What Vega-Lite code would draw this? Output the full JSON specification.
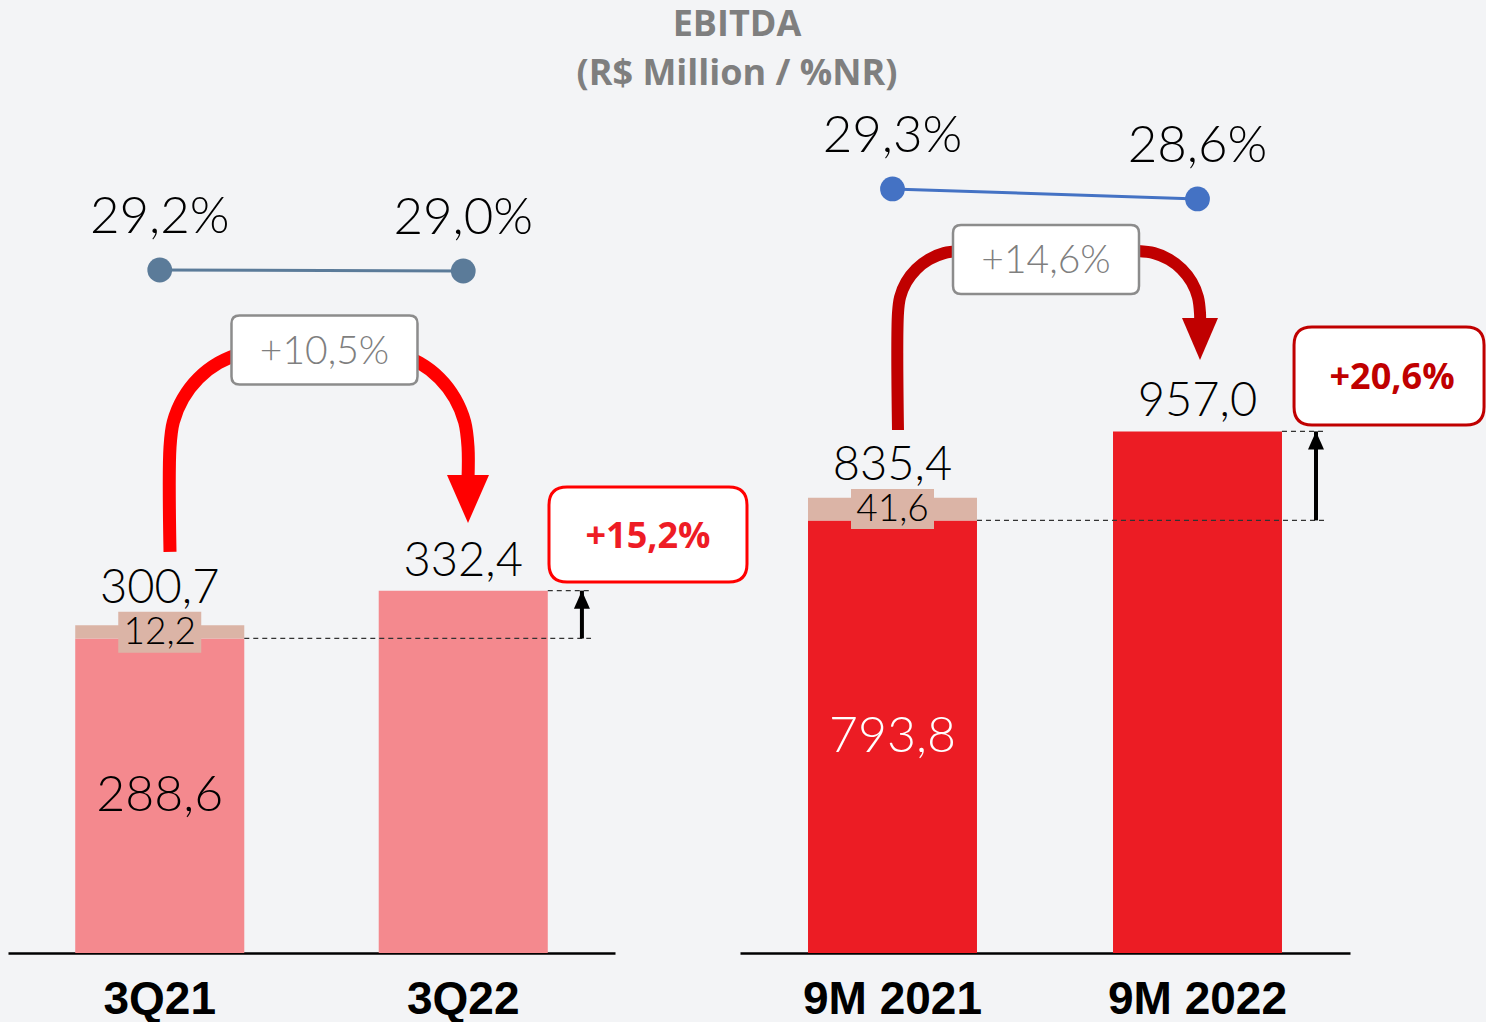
{
  "$schema": "https://vega.github.io/schema/vega-lite/v6.json",
  "background": "#f3f4f6",
  "padding": {"left": 8, "top": 7, "right": 0, "bottom": 0},
  "bounds": "flush",
  "title": {
    "text": ["EBITDA", "(R$ Million / %NR)"],
    "font": "Open Sans", "fontWeight": "bold", "fontSize": 36, "lineHeight": 49,
    "color": "#7f7f7f", "anchor": "start", "align": "center", "frame": "group", "dx": 729, "offset": -12
  },
  "config": {
    "view": {"stroke": null},
    "locale": {"number": {"decimal": ",", "thousands": ".", "grouping": [3], "currency": ["R$", ""]}}
  },
  "datasets": {
    "p1": [
      {"period": "3Q21", "segment": "base1", "value": 288.6},
      {"period": "3Q21", "segment": "extra", "value": 12.2},
      {"period": "3Q22", "segment": "base1", "value": 332.4}
    ],
    "p1sum": [
      {"period": "3Q21", "pos": 0.5, "base": 288.6, "extra": 12.2, "total": 300.7, "margin": 0.292},
      {"period": "3Q22", "pos": 1.5, "base": 332.4, "extra": 0, "total": 332.4, "margin": 0.290}
    ],
    "p1arc": [
      {"seg": "L", "ord": 0, "pos": 0.5338, "v": 367.9},
      {"seg": "L", "ord": 1, "pos": 0.5338, "v": 464.2},
      {"seg": "L", "ord": 2, "pos": 0.5446, "v": 487.2},
      {"seg": "L", "ord": 3, "pos": 0.5766, "v": 508.7},
      {"seg": "L", "ord": 4, "pos": 0.6273, "v": 527.2},
      {"seg": "L", "ord": 5, "pos": 0.6936, "v": 541.3},
      {"seg": "L", "ord": 6, "pos": 0.7707, "v": 550.2},
      {"seg": "L", "ord": 7, "pos": 0.8534, "v": 553.2},
      {"seg": "R", "ord": 0, "pos": 1.1960, "v": 553.2},
      {"seg": "R", "ord": 1, "pos": 1.2788, "v": 550.2},
      {"seg": "R", "ord": 2, "pos": 1.3558, "v": 541.3},
      {"seg": "R", "ord": 3, "pos": 1.4221, "v": 527.2},
      {"seg": "R", "ord": 4, "pos": 1.4728, "v": 508.7},
      {"seg": "R", "ord": 5, "pos": 1.5048, "v": 487.2},
      {"seg": "R", "ord": 6, "pos": 1.5157, "v": 464.2},
      {"seg": "R", "ord": 7, "pos": 1.5157, "v": 433.9}
    ],
    "p1head": [{"pos": 1.5157, "v": 394.5}],
    "p1growth": [{"pos": 1.0428, "v": 553.2, "growth": 0.105}],
    "p1yoy": [{"pos": 2.1087, "v": 383.9, "change": 0.152}],
    "p1dash": [
      {"x1": 0.7785, "x2": 1.921, "v": 288.6},
      {"x1": 1.7785, "x2": 1.921, "v": 332.4}
    ],
    "p1vert": [{"pos": 1.891, "from": 288.6, "to": 332.4}],
    "p2": [
      {"period": "9M 2021", "segment": "base2", "value": 793.8},
      {"period": "9M 2021", "segment": "extra", "value": 41.6},
      {"period": "9M 2022", "segment": "base2", "value": 957.0}
    ],
    "p2sum": [
      {"period": "9M 2021", "pos": 0.5, "base": 793.8, "extra": 41.6, "total": 835.4, "margin": 0.293},
      {"period": "9M 2022", "pos": 1.5, "base": 957.0, "extra": 0, "total": 957.0, "margin": 0.286}
    ],
    "p2arc": [
      {"seg": "L", "ord": 0, "pos": 0.5180, "v": 959.6},
      {"seg": "L", "ord": 1, "pos": 0.5180, "v": 1174.3},
      {"seg": "L", "ord": 2, "pos": 0.5250, "v": 1203.7},
      {"seg": "L", "ord": 3, "pos": 0.5452, "v": 1231.2},
      {"seg": "L", "ord": 4, "pos": 0.5777, "v": 1254.7},
      {"seg": "L", "ord": 5, "pos": 0.6197, "v": 1272.8},
      {"seg": "L", "ord": 6, "pos": 0.6689, "v": 1284.2},
      {"seg": "L", "ord": 7, "pos": 0.7213, "v": 1288.1},
      {"seg": "R", "ord": 0, "pos": 1.3049, "v": 1288.1},
      {"seg": "R", "ord": 1, "pos": 1.3574, "v": 1284.2},
      {"seg": "R", "ord": 2, "pos": 1.4066, "v": 1272.8},
      {"seg": "R", "ord": 3, "pos": 1.4485, "v": 1254.7},
      {"seg": "R", "ord": 4, "pos": 1.4810, "v": 1231.2},
      {"seg": "R", "ord": 5, "pos": 1.5013, "v": 1203.7},
      {"seg": "R", "ord": 6, "pos": 1.5082, "v": 1174.3},
      {"seg": "R", "ord": 7, "pos": 1.5082, "v": 1152.3}
    ],
    "p2head": [{"pos": 1.5082, "v": 1088.1}],
    "p2growth": [{"pos": 1.0033, "v": 1272.5, "growth": 0.146}],
    "p2yoy": [{"pos": 2.128, "v": 1058.7, "change": 0.206}],
    "p2dash": [
      {"x1": 0.777, "x2": 1.918, "v": 793.8},
      {"x1": 1.777, "x2": 1.918, "v": 957.0}
    ],
    "p2vert": [{"pos": 1.8885, "from": 793.8, "to": 957.0}]
  },
  "spacing": 125,
  "hconcat": [
    {
      "width": 607, "height": 872,
      "resolve": {"scale": {"x": "independent", "y": "independent"}},
      "layer": [
        {
          "data": {"name": "p1"},
          "mark": {"type": "bar", "width": {"band": 0.557}},
          "encoding": {
            "x": {"field": "period", "type": "nominal", "sort": null,
                  "scale": {"paddingInner": 0, "paddingOuter": 0},
                  "axis": {"title": null, "labelAngle": 0, "labelFont": "Liberation Sans", "labelFontWeight": "bold",
                           "labelFontSize": 46, "labelLimit": 0, "labelColor": "#000000", "domainColor": "#000000", "domainWidth": 2.5,
                           "ticks": false, "tickSize": 0, "labelPadding": 24, "grid": false}},
            "y": {"field": "value", "type": "quantitative", "stack": "zero", "scale": {"domain": [0, 800], "nice": false}, "axis": null},
            "color": {"field": "segment", "type": "nominal", "scale": {"domain": ["base1", "base2", "extra"], "range": ["#f4898e", "#ec1c24", "#dbb4a6"]}, "legend": null},
            "order": {"field": "segment", "sort": "ascending"}
          }
        },
        {
          "data": {"name": "p1sum"},
          "transform": [{"filter": "datum.extra > 0"}],
          "mark": {"type": "text", "font": "Lato", "fontWeight": 300, "fontSize": 50, "color": "#000000", "baseline": "middle"},
          "encoding": {
            "x": {"field": "pos", "type": "quantitative", "scale": {"domain": [0, 2], "nice": false, "zero": false}, "axis": null},
            "y": {"field": "base", "type": "quantitative", "scale": {"domain": [0, 1600], "nice": false}, "axis": null},
            "text": {"field": "base", "type": "quantitative", "format": ".1f"}
          }
        },
        {
          "data": {"name": "p1sum"},
          "transform": [{"filter": "datum.extra > 0"}],
          "layer": [
            {
              "mark": {"type": "point", "shape": "M-1,-0.325H1V0.663H-1Z", "size": 6889, "filled": true, "fill": "#dbb4a6", "opacity": 1, "strokeWidth": 0}
            },
            {
              "mark": {"type": "text", "font": "Lato", "fontWeight": 300, "fontSize": 37, "color": "#000000", "baseline": "middle", "dy": 8},
              "encoding": {"text": {"field": "extra", "type": "quantitative", "format": ".1f"}}
            },
            {
              "mark": {"type": "text", "font": "Lato", "fontWeight": 300, "fontSize": 47, "color": "#000000", "baseline": "alphabetic", "dy": -22},
              "encoding": {"text": {"field": "total", "type": "quantitative", "format": ".1f"}}
            }
          ],
          "encoding": {
            "x": {"field": "pos", "type": "quantitative", "scale": {"domain": [0, 2], "nice": false, "zero": false}, "axis": null},
            "y": {"field": "total", "type": "quantitative", "scale": {"domain": [0, 800], "nice": false}, "axis": null}
          }
        },
        {
          "data": {"name": "p1sum"},
          "transform": [{"filter": "datum.extra == 0"}],
          "mark": {"type": "text", "font": "Lato", "fontWeight": 300, "fontSize": 47, "color": "#000000", "baseline": "alphabetic", "dy": -15},
          "encoding": {
            "x": {"field": "pos", "type": "quantitative", "scale": {"domain": [0, 2], "nice": false, "zero": false}, "axis": null},
            "y": {"field": "total", "type": "quantitative", "scale": {"domain": [0, 800], "nice": false}, "axis": null},
            "text": {"field": "total", "type": "quantitative", "format": ".1f"}
          }
        },
        {
          "data": {"name": "p1dash"},
          "mark": {"type": "rule", "strokeDash": [5, 4], "color": "#333333", "strokeWidth": 1.2},
          "encoding": {
            "x": {"field": "x1", "type": "quantitative", "scale": {"domain": [0, 2], "nice": false, "zero": false}, "axis": null},
            "x2": {"field": "x2"},
            "y": {"field": "v", "type": "quantitative", "scale": {"domain": [0, 800], "nice": false}, "axis": null}
          }
        },
        {
          "data": {"name": "p1vert"},
          "layer": [
            {
              "mark": {"type": "rule", "color": "#000000", "strokeWidth": 4},
              "encoding": {"y2": {"field": "to"}}
            },
            {
              "mark": {"type": "point", "shape": "M0,0L-1,2.25L1,2.25Z", "size": 256, "filled": true, "color": "#000000", "opacity": 1},
              "encoding": {"y": {"field": "to", "type": "quantitative", "scale": {"domain": [0, 800], "nice": false}, "axis": null}}
            }
          ],
          "encoding": {
            "x": {"field": "pos", "type": "quantitative", "scale": {"domain": [0, 2], "nice": false, "zero": false}, "axis": null},
            "y": {"field": "from", "type": "quantitative", "scale": {"domain": [0, 800], "nice": false}, "axis": null}
          }
        },
        {
          "data": {"name": "p1arc"},
          "mark": {"type": "line", "color": "#ff0000", "strokeWidth": 13, "interpolate": "catmull-rom", "strokeCap": "butt"},
          "encoding": {
            "x": {"field": "pos", "type": "quantitative", "scale": {"domain": [0, 2], "nice": false, "zero": false}, "axis": null},
            "y": {"field": "v", "type": "quantitative", "scale": {"domain": [0, 800], "nice": false}, "axis": null},
            "detail": {"field": "seg", "type": "nominal"},
            "order": {"field": "ord", "type": "quantitative"}
          }
        },
        {
          "data": {"name": "p1head"},
          "mark": {"type": "point", "shape": "M0,0L-1,-2.286L1,-2.286Z", "size": 1764, "filled": true, "color": "#ff0000", "opacity": 1},
          "encoding": {
            "x": {"field": "pos", "type": "quantitative", "scale": {"domain": [0, 2], "nice": false, "zero": false}, "axis": null},
            "y": {"field": "v", "type": "quantitative", "scale": {"domain": [0, 800], "nice": false}, "axis": null}
          }
        },
        {
          "data": {"name": "p1growth"},
          "layer": [
            {
              "mark": {"type": "point", "shape": "M-0.914,-0.371H0.914Q1,-0.371 1,-0.285V0.285Q1,0.371 0.914,0.371H-0.914Q-1,0.371 -1,0.285V-0.285Q-1,-0.371 -0.914,-0.371Z",
                       "size": 34596, "filled": true, "fill": "#ffffff", "stroke": "#8c8c8c", "strokeWidth": 2.5, "opacity": 1}
            },
            {
              "mark": {"type": "text", "font": "Lato", "fontWeight": 300, "fontSize": 39, "color": "#7f7f7f", "baseline": "middle", "dy": 2},
              "encoding": {"text": {"field": "growth", "type": "quantitative", "format": "+.1%"}}
            }
          ],
          "encoding": {
            "x": {"field": "pos", "type": "quantitative", "scale": {"domain": [0, 2], "nice": false, "zero": false}, "axis": null},
            "y": {"field": "v", "type": "quantitative", "scale": {"domain": [0, 800], "nice": false}, "axis": null}
          }
        },
        {
          "data": {"name": "p1yoy"},
          "layer": [
            {
              "mark": {"type": "point", "shape": "M-0.818,-0.48H0.818Q1,-0.48 1,-0.298V0.298Q1,0.48 0.818,0.48H-0.818Q-1,0.48 -1,0.298V-0.298Q-1,-0.48 -0.818,-0.48Z",
                       "size": 39204, "filled": true, "fill": "#ffffff", "stroke": "#ff0000", "strokeWidth": 3, "opacity": 1}
            },
            {
              "mark": {"type": "text", "font": "Open Sans", "fontWeight": "bold", "fontSize": 36, "color": "#ee1c25", "baseline": "middle", "dy": 2},
              "encoding": {"text": {"field": "change", "type": "quantitative", "format": "+.1%"}}
            }
          ],
          "encoding": {
            "x": {"field": "pos", "type": "quantitative", "scale": {"domain": [0, 2], "nice": false, "zero": false}, "axis": null},
            "y": {"field": "v", "type": "quantitative", "scale": {"domain": [0, 800], "nice": false}, "axis": null}
          }
        },
        {
          "data": {"name": "p1sum"},
          "layer": [
            {"mark": {"type": "line", "color": "#5b7b99", "strokeWidth": 3}},
            {"mark": {"type": "point", "filled": true, "size": 615, "color": "#5b7b99", "opacity": 1}},
            {
              "mark": {"type": "text", "font": "Lato", "fontWeight": 300, "fontSize": 51, "color": "#000000", "baseline": "alphabetic", "dy": -37},
              "encoding": {"text": {"field": "margin", "type": "quantitative", "format": ".1%"}}
            }
          ],
          "encoding": {
            "x": {"field": "pos", "type": "quantitative", "scale": {"domain": [0, 2], "nice": false, "zero": false}, "axis": null},
            "y": {"field": "margin", "type": "quantitative", "scale": {"domain": [-1.074, 0.67], "nice": false, "zero": false}, "axis": null}
          }
        }
      ]
    },
    {
      "width": 610, "height": 872,
      "resolve": {"scale": {"x": "independent", "y": "independent"}},
      "layer": [
        {
          "data": {"name": "p2"},
          "mark": {"type": "bar", "width": {"band": 0.554}},
          "encoding": {
            "x": {"field": "period", "type": "nominal", "sort": null,
                  "scale": {"paddingInner": 0, "paddingOuter": 0},
                  "axis": {"title": null, "labelAngle": 0, "labelFont": "Liberation Sans", "labelFontWeight": "bold",
                           "labelFontSize": 46, "labelLimit": 0, "labelColor": "#000000", "domainColor": "#000000", "domainWidth": 2.5,
                           "ticks": false, "tickSize": 0, "labelPadding": 24, "grid": false}},
            "y": {"field": "value", "type": "quantitative", "stack": "zero", "scale": {"domain": [0, 1600], "nice": false}, "axis": null},
            "color": {"field": "segment", "type": "nominal", "scale": {"domain": ["base1", "base2", "extra"], "range": ["#f4898e", "#ec1c24", "#dbb4a6"]}, "legend": null},
            "order": {"field": "segment", "sort": "ascending"}
          }
        },
        {
          "data": {"name": "p2sum"},
          "transform": [{"filter": "datum.extra > 0"}],
          "mark": {"type": "text", "font": "Lato", "fontWeight": 300, "fontSize": 50, "color": "#ffffff", "baseline": "middle"},
          "encoding": {
            "x": {"field": "pos", "type": "quantitative", "scale": {"domain": [0, 2], "nice": false, "zero": false}, "axis": null},
            "y": {"field": "base", "type": "quantitative", "scale": {"domain": [0, 3200], "nice": false}, "axis": null},
            "text": {"field": "base", "type": "quantitative", "format": ".1f"}
          }
        },
        {
          "data": {"name": "p2sum"},
          "transform": [{"filter": "datum.extra > 0"}],
          "layer": [
            {
              "mark": {"type": "point", "shape": "M-1,-0.21H1V0.754H-1Z", "size": 6889, "filled": true, "fill": "#dbb4a6", "opacity": 1, "strokeWidth": 0}
            },
            {
              "mark": {"type": "text", "font": "Lato", "fontWeight": 300, "fontSize": 37, "color": "#000000", "baseline": "middle", "dy": 12},
              "encoding": {"text": {"field": "extra", "type": "quantitative", "format": ".1f"}}
            },
            {
              "mark": {"type": "text", "font": "Lato", "fontWeight": 300, "fontSize": 47, "color": "#000000", "baseline": "alphabetic", "dy": -18},
              "encoding": {"text": {"field": "total", "type": "quantitative", "format": ".1f"}}
            }
          ],
          "encoding": {
            "x": {"field": "pos", "type": "quantitative", "scale": {"domain": [0, 2], "nice": false, "zero": false}, "axis": null},
            "y": {"field": "total", "type": "quantitative", "scale": {"domain": [0, 1600], "nice": false}, "axis": null}
          }
        },
        {
          "data": {"name": "p2sum"},
          "transform": [{"filter": "datum.extra == 0"}],
          "mark": {"type": "text", "font": "Lato", "fontWeight": 300, "fontSize": 47, "color": "#000000", "baseline": "alphabetic", "dy": -15},
          "encoding": {
            "x": {"field": "pos", "type": "quantitative", "scale": {"domain": [0, 2], "nice": false, "zero": false}, "axis": null},
            "y": {"field": "total", "type": "quantitative", "scale": {"domain": [0, 1600], "nice": false}, "axis": null},
            "text": {"field": "total", "type": "quantitative", "format": ".1f"}
          }
        },
        {
          "data": {"name": "p2dash"},
          "mark": {"type": "rule", "strokeDash": [5, 4], "color": "#333333", "strokeWidth": 1.2},
          "encoding": {
            "x": {"field": "x1", "type": "quantitative", "scale": {"domain": [0, 2], "nice": false, "zero": false}, "axis": null},
            "x2": {"field": "x2"},
            "y": {"field": "v", "type": "quantitative", "scale": {"domain": [0, 1600], "nice": false}, "axis": null}
          }
        },
        {
          "data": {"name": "p2vert"},
          "layer": [
            {
              "mark": {"type": "rule", "color": "#000000", "strokeWidth": 4},
              "encoding": {"y2": {"field": "to"}}
            },
            {
              "mark": {"type": "point", "shape": "M0,0L-1,2.25L1,2.25Z", "size": 256, "filled": true, "color": "#000000", "opacity": 1},
              "encoding": {"y": {"field": "to", "type": "quantitative", "scale": {"domain": [0, 1600], "nice": false}, "axis": null}}
            }
          ],
          "encoding": {
            "x": {"field": "pos", "type": "quantitative", "scale": {"domain": [0, 2], "nice": false, "zero": false}, "axis": null},
            "y": {"field": "from", "type": "quantitative", "scale": {"domain": [0, 1600], "nice": false}, "axis": null}
          }
        },
        {
          "data": {"name": "p2arc"},
          "mark": {"type": "line", "color": "#c00000", "strokeWidth": 12, "interpolate": "catmull-rom", "strokeCap": "butt"},
          "encoding": {
            "x": {"field": "pos", "type": "quantitative", "scale": {"domain": [0, 2], "nice": false, "zero": false}, "axis": null},
            "y": {"field": "v", "type": "quantitative", "scale": {"domain": [0, 1600], "nice": false}, "axis": null},
            "detail": {"field": "seg", "type": "nominal"},
            "order": {"field": "ord", "type": "quantitative"}
          }
        },
        {
          "data": {"name": "p2head"},
          "mark": {"type": "point", "shape": "M0,0L-1,-2.333L1,-2.333Z", "size": 1296, "filled": true, "color": "#c00000", "opacity": 1},
          "encoding": {
            "x": {"field": "pos", "type": "quantitative", "scale": {"domain": [0, 2], "nice": false, "zero": false}, "axis": null},
            "y": {"field": "v", "type": "quantitative", "scale": {"domain": [0, 1600], "nice": false}, "axis": null}
          }
        },
        {
          "data": {"name": "p2growth"},
          "layer": [
            {
              "mark": {"type": "point", "shape": "M-0.914,-0.371H0.914Q1,-0.371 1,-0.285V0.285Q1,0.371 0.914,0.371H-0.914Q-1,0.371 -1,0.285V-0.285Q-1,-0.371 -0.914,-0.371Z",
                       "size": 34596, "filled": true, "fill": "#ffffff", "stroke": "#8c8c8c", "strokeWidth": 2.5, "opacity": 1}
            },
            {
              "mark": {"type": "text", "font": "Lato", "fontWeight": 300, "fontSize": 39, "color": "#7f7f7f", "baseline": "middle", "dy": 2},
              "encoding": {"text": {"field": "growth", "type": "quantitative", "format": "+.1%"}}
            }
          ],
          "encoding": {
            "x": {"field": "pos", "type": "quantitative", "scale": {"domain": [0, 2], "nice": false, "zero": false}, "axis": null},
            "y": {"field": "v", "type": "quantitative", "scale": {"domain": [0, 1600], "nice": false}, "axis": null}
          }
        },
        {
          "data": {"name": "p2yoy"},
          "layer": [
            {
              "mark": {"type": "point", "shape": "M-0.811,-0.516H0.811Q1,-0.516 1,-0.327V0.327Q1,0.516 0.811,0.516H-0.811Q-1,0.516 -1,0.327V-0.327Q-1,-0.516 -0.811,-0.516Z",
                       "size": 36100, "filled": true, "fill": "#ffffff", "stroke": "#c00000", "strokeWidth": 3, "opacity": 1}
            },
            {
              "mark": {"type": "text", "font": "Open Sans", "fontWeight": "bold", "fontSize": 36, "color": "#c00000", "baseline": "middle", "dx": 3, "dy": 2},
              "encoding": {"text": {"field": "change", "type": "quantitative", "format": "+.1%"}}
            }
          ],
          "encoding": {
            "x": {"field": "pos", "type": "quantitative", "scale": {"domain": [0, 2], "nice": false, "zero": false}, "axis": null},
            "y": {"field": "v", "type": "quantitative", "scale": {"domain": [0, 1600], "nice": false}, "axis": null}
          }
        },
        {
          "data": {"name": "p2sum"},
          "layer": [
            {"mark": {"type": "line", "color": "#4472c4", "strokeWidth": 3}},
            {"mark": {"type": "point", "filled": true, "size": 615, "color": "#4472c4", "opacity": 1}},
            {
              "mark": {"type": "text", "font": "Lato", "fontWeight": 300, "fontSize": 51, "color": "#000000", "baseline": "alphabetic", "dy": -37},
              "encoding": {"text": {"field": "margin", "type": "quantitative", "format": ".1%"}}
            }
          ],
          "encoding": {
            "x": {"field": "pos", "type": "quantitative", "scale": {"domain": [0, 2], "nice": false, "zero": false}, "axis": null},
            "y": {"field": "margin", "type": "quantitative", "scale": {"domain": [-0.2415, 0.3685], "nice": false, "zero": false}, "axis": null}
          }
        }
      ]
    }
  ]
}
